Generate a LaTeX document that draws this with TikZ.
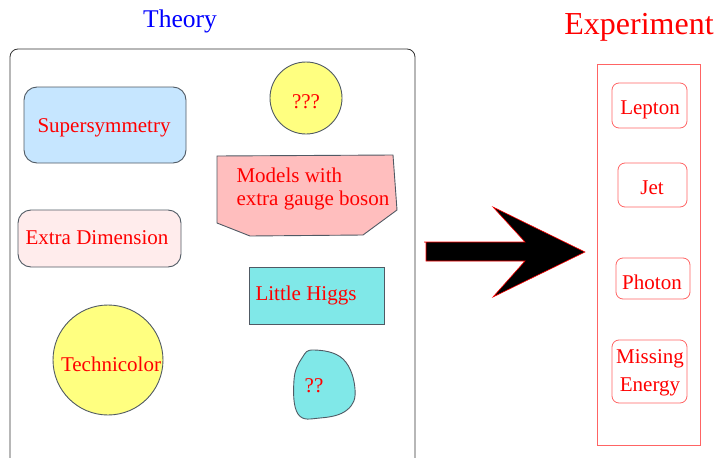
\documentclass[tikz,border=0pt]{standalone}
\usepackage{fontspec}
\setmainfont{Liberation Serif}
\definecolor{tred}{RGB}{255,0,0}
\definecolor{lblue}{RGB}{198,230,255}
\definecolor{yel}{RGB}{255,255,128}
\definecolor{pinkf}{RGB}{255,190,190}
\definecolor{lpink}{RGB}{255,236,236}
\definecolor{cyanf}{RGB}{128,232,232}
\definecolor{bord}{RGB}{80,90,100}
\definecolor{exred}{RGB}{255,100,100}
\begin{document}
\begin{tikzpicture}[x=1pt,y=-1pt,
  lbl/.style={text=tred,font=\fontsize{21}{23}\selectfont},
  shp/.style={draw=bord,line width=0.9pt},
  exbox/.style={draw=exred,line width=0.8pt,rounded corners=7pt}]
\useasboundingbox (0,0) rectangle (716,458);
\begin{scope}
\clip (0,0) rectangle (716,458);
\draw[line width=0.8pt,draw=black!80,rounded corners=8pt] (10,49) rectangle (415,480);
\end{scope}
\node[text=blue,font=\fontsize{25.5}{28}\selectfont] (theory) at (180,21) {Theory};
\node[text=tred,font=\fontsize{32}{34}\selectfont] (exp) at (639,27) {Experiment};
% theory shapes
\draw[shp,fill=lblue,rounded corners=13pt] (24,87) rectangle (186,163);
\node[lbl] (susy) at (104,128) {Supersymmetry};
\draw[shp,fill=yel] (306,98) circle (36);
\node[lbl] (q3) at (306,102) {???};
\draw[shp,fill=pinkf] (217,156) -- (393,155) -- (397,210) -- (363,235) -- (250,236) -- (217,223) -- cycle;
\node[lbl,align=left,anchor=west] (models) at (233,189) {Models with\\extra gauge boson};
\draw[shp,fill=lpink,rounded corners=13pt] (18,210) rectangle (181,267);
\node[lbl] (ed) at (97,238) {Extra Dimension};
\draw[shp,fill=cyanf] (249,267) rectangle (384,324);
\node[lbl] (lh) at (306,295) {Little Higgs};
\draw[shp,fill=yel] (108,360) circle (55);
\node[lbl] (tc) at (111,364) {Technicolor};
\draw[shp,fill=cyanf] plot[smooth cycle,tension=0.7] coordinates {(314,350) (343,359) (355,389) (347,410) (320,418) (298,414) (294,380) (302,358)};
\node[lbl] (q2) at (314,386) {??};
% arrow
\draw[fill=black,draw=tred,line width=0.6pt] (424,242) -- (525,242) -- (493,207) -- (585,252) -- (493,297) -- (525,261) -- (426,261) -- (426,242);
% experiment
\draw[draw=exred,line width=0.8pt] (597,64) rectangle (700,445);
\draw[exbox] (612,83) rectangle (687,128);
\node[lbl] (lep) at (650,110) {Lepton};
\draw[exbox] (618,163) rectangle (687,207);
\node[lbl] (jet) at (652,188) {Jet};
\draw[exbox] (616,258) rectangle (690,299);
\node[lbl] (pho) at (652,282) {Photon};
\draw[exbox] (612,340) rectangle (687,403);
\node[lbl,align=center,font=\fontsize{21}{28}\selectfont] (me) at (650,373) {Missing\\Energy};
\end{tikzpicture}
\end{document}
